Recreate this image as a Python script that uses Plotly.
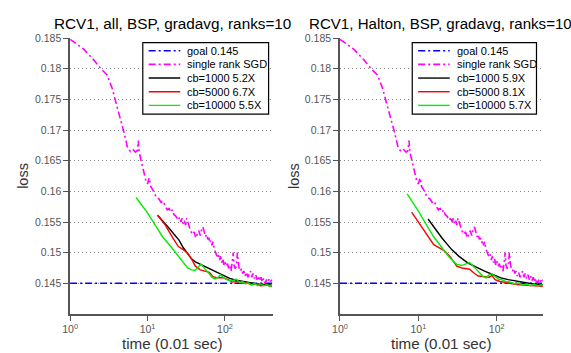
import plotly.graph_objects as go

# ---------------- data ----------------
goal_value = 0.145
goal_t = [1, 420]

sgd_t = [1, 1.5, 2, 2.5, 3, 3.5, 4, 4.5, 5, 5.5, 6, 6.5, 7, 7.4, 7.6, 7.8, 8.5, 9, 9.5, 10,
         10.5, 11, 12, 13, 14, 15, 16, 17, 18, 19, 20, 21, 22, 23, 24, 25, 26, 27, 28, 29,
         30, 31, 32, 33, 34, 35, 36, 38, 40, 42, 44, 46, 48, 50, 52, 54, 56, 58, 60, 62,
         64, 66, 68, 70, 73, 76, 79, 82, 85, 88, 91, 94, 97, 100, 104, 108, 112, 116, 120, 125,
         128, 131, 135, 140, 145, 148, 152, 158, 164, 170, 176, 182, 190, 198, 206, 214, 222, 230, 240, 250,
         260, 270, 280, 292, 304, 316, 330, 345, 360, 375, 390, 405]
sgd_loss = [0.1848, 0.1832, 0.1815, 0.1800, 0.1790, 0.1768, 0.1740, 0.1718, 0.1695, 0.1672,
            0.1665, 0.1668, 0.1664, 0.1667, 0.1683, 0.1664, 0.1645, 0.1630, 0.1618, 0.1612,
            0.1622, 0.1608, 0.1600, 0.1590, 0.1588, 0.1582, 0.1584, 0.1575, 0.1570, 0.1572,
            0.1566, 0.1570, 0.1562, 0.1560, 0.1556, 0.1553, 0.1558, 0.1550, 0.1556, 0.1547,
            0.1552, 0.1545, 0.1556, 0.1550, 0.1546, 0.1540, 0.1536, 0.1530, 0.1534, 0.1524,
            0.1530, 0.1536, 0.1528, 0.1538, 0.1542, 0.1532, 0.1526, 0.1530, 0.1522, 0.1524,
            0.1516, 0.1520, 0.1512, 0.1518, 0.1505, 0.1500, 0.1494, 0.1498, 0.1488, 0.1494,
            0.1484, 0.1490, 0.1480, 0.1486, 0.1478, 0.1482, 0.1474, 0.1478, 0.1470, 0.1488,
            0.1500, 0.1480, 0.1474, 0.1478, 0.1500, 0.1486, 0.1476, 0.1470, 0.1474, 0.1466,
            0.1470, 0.1462, 0.1468, 0.1460, 0.1466, 0.1470, 0.1460, 0.1466, 0.1458, 0.1464,
            0.1456, 0.1462, 0.1454, 0.1460, 0.1452, 0.1458, 0.1450, 0.1456, 0.1452, 0.1458,
            0.1453, 0.1456]

# left panel: RCV1, all
all_cb1000_t = [13.5, 16, 19, 22, 25.4, 29, 33, 37, 41.5, 50, 60, 70, 85, 100, 115, 140, 170, 210, 260, 320, 405]
all_cb1000_loss = [0.1561, 0.1551, 0.1540, 0.1530, 0.1521, 0.1508, 0.1498, 0.1490, 0.1485, 0.1480, 0.1475,
                   0.1471, 0.1466, 0.1462, 0.1458, 0.1455, 0.1453, 0.1451, 0.1449, 0.1448, 0.1447]
all_cb5000_t = [13.5, 17, 21, 25, 29, 33, 37, 41.5, 48, 55, 63, 70, 80, 95, 110, 125, 145, 165, 190, 215, 250, 290, 340, 405]
all_cb5000_loss = [0.1561, 0.1545, 0.1525, 0.1510, 0.1505, 0.1499, 0.1490, 0.1478, 0.1472, 0.1470, 0.1468,
                   0.1461, 0.1459, 0.1459, 0.1456, 0.1452, 0.1453, 0.1450, 0.1451, 0.1448, 0.1449, 0.1446,
                   0.1447, 0.1445]
all_cb10000_t = [7.1, 10, 13, 15.6, 20, 25, 30, 33, 37, 41, 45, 49, 55, 62, 68, 74, 82, 88, 96, 105, 116,
                 130, 140, 155, 170, 185, 200, 220, 240, 265, 290, 320, 350, 380, 405]
all_cb10000_loss = [0.1590, 0.1565, 0.1542, 0.1526, 0.1510, 0.1495, 0.1481, 0.1475, 0.1472, 0.1471, 0.1476,
                    0.1481, 0.1474, 0.1466, 0.1460, 0.1457, 0.1460, 0.1464, 0.1459, 0.1456, 0.1454,
                    0.1455, 0.1457, 0.1451, 0.1453, 0.1449, 0.1451, 0.1447, 0.1450, 0.1446, 0.1449,
                    0.1446, 0.1448, 0.1445, 0.1447]

# right panel: RCV1, Halton
hal_cb1000_t = [13.3, 16, 20, 26.6, 33, 43, 55, 70, 90, 113, 140, 190, 250, 320, 405]
hal_cb1000_loss = [0.1555, 0.1540, 0.1524, 0.1505, 0.1494, 0.1483, 0.1476, 0.1470, 0.1464, 0.1459,
                   0.1456, 0.1453, 0.1450, 0.1448, 0.1447]
hal_cb5000_t = [8.2, 10, 12, 15.7, 19, 22, 26, 30.8, 36, 45, 52, 58, 70, 80, 87, 95, 110, 130, 150, 180, 220, 270, 330, 405]
hal_cb5000_loss = [0.1566, 0.1550, 0.1534, 0.1513, 0.1507, 0.1502, 0.1492, 0.1478, 0.1475, 0.1473, 0.1466,
                   0.1462, 0.1461, 0.1460, 0.1463, 0.1456, 0.1453, 0.1451, 0.1450, 0.1448, 0.1447, 0.1446,
                   0.1446, 0.1445]
hal_cb10000_t = [7.2, 10, 13, 15.7, 20, 25, 30.8, 36, 41, 45, 52, 60, 67, 73, 80, 86, 95, 105, 115, 130,
                 150, 170, 190, 215, 240, 270, 300, 340, 370, 405]
hal_cb10000_loss = [0.1596, 0.1568, 0.1543, 0.1526, 0.1508, 0.1492, 0.1481, 0.1479, 0.1482, 0.1484, 0.1476,
                    0.1467, 0.1461, 0.1459, 0.1464, 0.1466, 0.1461, 0.1457, 0.1456, 0.1453, 0.1452,
                    0.1449, 0.1451, 0.1447, 0.1449, 0.1446, 0.1448, 0.1446, 0.1448, 0.1446]

titles = ["RCV1, all, BSP, gradavg, ranks=10", "RCV1, Halton, BSP, gradavg, ranks=10"]
legend_names = [
    ["goal 0.145", "single rank SGD", "cb=1000 5.2X", "cb=5000 6.7X", "cb=10000 5.5X"],
    ["goal 0.145", "single rank SGD", "cb=1000 5.9X", "cb=5000 8.1X", "cb=10000 5.7X"],
]
y_ticks = [0.145, 0.15, 0.155, 0.16, 0.165, 0.17, 0.175, 0.18, 0.185]
y_tick_text = ["0.145", "0.15", "0.155", "0.16", "0.165", "0.17", "0.175", "0.18", "0.185"]
x_ticks = [1, 10, 100]
x_tick_text = ["10<sup>0</sup>", "10<sup>1</sup>", "10<sup>2</sup>"]

# ---------------- styles ----------------
W, H = 571, 353
FONT = "Liberation Sans, Arial, sans-serif"
DASHDOT = "7px,3px,2px,3px"
series_styles = [
    dict(color="#0000ff", width=1.4, dash=DASHDOT),
    dict(color="#ff00ff", width=1.6, dash=DASHDOT),
    dict(color="#000000", width=1.4, dash="solid"),
    dict(color="#ff0000", width=1.4, dash="solid"),
    dict(color="#00ee00", width=1.4, dash="solid"),
]

fig = go.Figure()

panels = [
    (all_cb1000_t, all_cb1000_loss, all_cb5000_t, all_cb5000_loss, all_cb10000_t, all_cb10000_loss),
    (hal_cb1000_t, hal_cb1000_loss, hal_cb5000_t, hal_cb5000_loss, hal_cb10000_t, hal_cb10000_loss),
]
for i, (t1, l1, t5, l5, t10, l10) in enumerate(panels):
    xa = "x" if i == 0 else "x2"
    ya = "y" if i == 0 else "y2"
    names = legend_names[i]
    series = [(goal_t, [goal_value] * len(goal_t)), (sgd_t, sgd_loss), (t1, l1), (t5, l5), (t10, l10)]
    for k, (xs, ys) in enumerate(series):
        fig.add_trace(go.Scatter(x=xs, y=ys, mode="lines", name=names[k], showlegend=False,
                                 line=series_styles[k], xaxis=xa, yaxis=ya))

axis_common = dict(showline=True, linecolor="#555555", linewidth=1.5, ticks="outside", ticklen=5,
                   tickcolor="#555555", tickwidth=1.2, zeroline=False,
                   tickfont=dict(family=FONT, size=10.5, color="#555555"))
xcommon = dict(axis_common, type="log", showgrid=False, tickvals=x_ticks, ticktext=x_tick_text)
ycommon = dict(axis_common, range=[0.14, 0.185], tickvals=y_ticks, ticktext=y_tick_text,
               showgrid=True, gridcolor="#8a8a8a", griddash="1px,3px", gridwidth=1)

y_dom = [1 - 313.3 / H, 1 - 32.7 / H]
fig.update_layout(
    width=W, height=H, margin=dict(l=0, r=0, t=0, b=0),
    paper_bgcolor="white", plot_bgcolor="white",
    font=dict(family=FONT, color="#000000"),
    xaxis=dict(xcommon, domain=[63 / W, 269 / W], range=[0, 2.624], anchor="y"),
    yaxis=dict(ycommon, domain=y_dom, anchor="x"),
    xaxis2=dict(xcommon, domain=[336.7 / W, 542.3 / W], range=[0, 2.586], anchor="y2"),
    yaxis2=dict(ycommon, domain=y_dom, anchor="x2"),
    showlegend=False,
)

# ---- legend boxes (drawn like the MATLAB legends) ----
legend_boxes = [(136.7, 264.3), (410.0, 536.0)]
box_top, box_bottom = 37.3, 110.0
row_first, row_step = 45.5, 13.9
for i, (bx0, bx1) in enumerate(legend_boxes):
    fig.add_shape(type="rect", xref="paper", yref="paper", layer="above",
                  x0=bx0 / W, x1=bx1 / W, y0=1 - box_bottom / H, y1=1 - box_top / H,
                  line=dict(color="#000000", width=1.2), fillcolor="white")
    for k, name in enumerate(legend_names[i]):
        yc = row_first + k * row_step
        st = series_styles[k]
        fig.add_shape(type="line", xref="paper", yref="paper", layer="above",
                      x0=(bx0 + 6) / W, x1=(bx0 + 38) / W, y0=1 - yc / H, y1=1 - yc / H,
                      line=dict(color=st["color"], width=st["width"], dash=st["dash"]))
        fig.add_annotation(text=name, x=(bx0 + 43) / W, y=1 - yc / H, xref="paper", yref="paper",
                           xanchor="left", yanchor="middle", showarrow=False,
                           font=dict(family=FONT, size=11, color="#000000"))

annots = [
    dict(text=titles[0], x=167 / W, y=1 - 18 / H, size=15.3, color="#000000", angle=0),
    dict(text=titles[1], x=439 / W, y=1 - 18 / H, size=15.1, color="#000000", angle=0),
    dict(text="loss", x=15 / W, y=1 - 173 / H, size=14.5, color="#333333", angle=-90),
    dict(text="loss", x=290 / W, y=1 - 173 / H, size=14.5, color="#333333", angle=-90),
    dict(text="time (0.01 sec)", x=166 / W, y=1 - 343 / H, size=15.2, color="#333333", angle=0),
    dict(text="time (0.01 sec)", x=439.5 / W, y=1 - 343 / H, size=15.2, color="#333333", angle=0),
]
for a in annots:
    fig.add_annotation(text=a["text"], x=a["x"], y=a["y"], xref="paper", yref="paper",
                       xanchor="center", yanchor="middle", showarrow=False, textangle=a["angle"],
                       font=dict(family=FONT, size=a["size"], color=a["color"]))

fig.write_html("out.html")
